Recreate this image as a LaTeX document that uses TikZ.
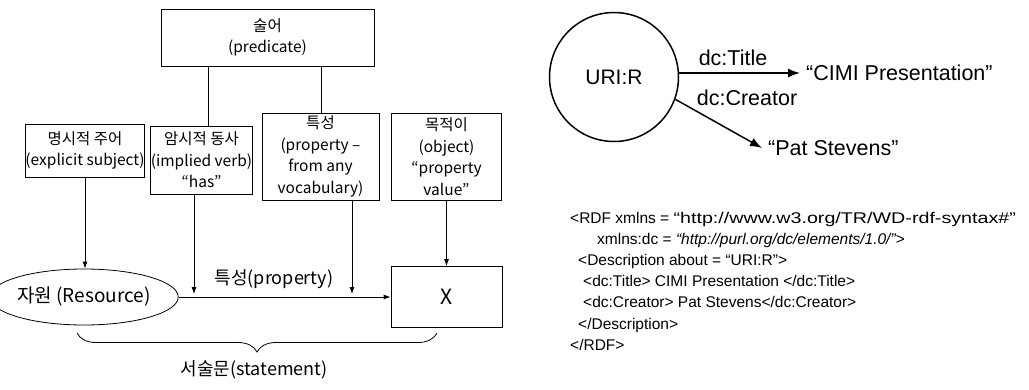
\documentclass[tikz,border=0pt]{standalone}
\usepackage{fontspec}
\setmainfont{Liberation Sans}
\newfontfamily\krfont{Noto Sans CJK KR}
\usepackage{tikz}
\usetikzlibrary{calc}
\usetikzlibrary{positioning}
\usetikzlibrary{shapes.geometric}
\usetikzlibrary{arrows.meta}
\usetikzlibrary{decorations.pathreplacing}

\newcommand{\krsize}[2]{\krfont\fontsize{#1}{#2}\selectfont}
\newcommand{\rdfsize}[1]{\fontsize{#1}{#1}\selectfont}

\begin{document}
\begin{tikzpicture}[x=1pt, y=-1pt]

                \def\d{21.2}

                % Styles shared by the two drawings
                \tikzset{
                    termbox/.style={draw, line width=0.8pt, align=center,
                        inner sep=0pt, font=\krsize{15.5}{21.5}},
                    smallarrow/.style={line width=0.8pt,
                        -{Latex[length=7pt, width=5pt]}},
                    bigarrow/.style={line width=1.5pt,
                        -{Latex[length=12pt, width=9pt]}},
                    rdflabel/.style={font=\rdfsize{21.5}, inner sep=6pt},
                    codeline/.style={anchor=base west, inner sep=0pt,
                        font=\rdfsize{15.5}}
                }

                \useasboundingbox (0, 0) rectangle (1029, 389);

                % Left drawing: subject, predicate and object
                \begin{scope}
                    \node[termbox, minimum width=213, minimum height=57]
                    (pred) at (267.5, 37.5) {술어\\(predicate)};
                    \node[termbox, minimum width=116, minimum height=53]
                    (subj) at (85, 150.5) {명시적 주어\\(explicit subject)};
                    \node[termbox, minimum width=95, minimum height=68]
                    (verb) at (201.5, 160) {암시적 동사\\(implied verb)\\“has”};
                    \node[termbox, minimum width=117, minimum height=87]
                    (prop) at (320.5, 156.5)
                    {특성\\(property –\\from any\\vocabulary)};
                    \node[termbox, minimum width=110, minimum height=87]
                    (obj) at (446.5, 156.5)
                    {목적이\\(object)\\“property\\value”};

                    \node[draw, ellipse, line width=0.8pt, inner sep=0pt,
                        minimum width=152, minimum height=56,
                        font=\krsize{19}{22}]
                    (res) at (84, 297) {자원 (Resource)};
                    \node[draw, line width=0.8pt, minimum width=111,
                        minimum height=61, font=\krsize{21}{24}]
                    (val) at (446.5, 297) {X};

                    \node[font=\krsize{18}{21}] (proplbl) at (274, 279)
                    {특성(property)};
                    \coordinate (braceL) at (77, 333);
                    \coordinate (braceR) at (437, 333);
                    \node[font=\krsize{18}{21}] (stmt) at (254, 370)
                    {서술문(statement)};

                    \coordinate (hasTip) at (194, 294);
                    \coordinate (propTip) at (352, 294);
                \end{scope}

                \begin{scope}[line width=0.8pt]
                    \draw (208,0 |- pred.south) -- (208,0 |- verb.north);
                    \draw (321,0 |- pred.south) -- (321,0 |- prop.north);
                    \draw[smallarrow] (subj.south) -- (subj.south |- res.north);
                    \draw[smallarrow] (194,0 |- verb.south) -- (hasTip);
                    \draw[smallarrow] (352,0 |- prop.south) -- (propTip);
                    \draw[smallarrow] (obj.south) -- (val.north);
                    \draw[smallarrow] (res.east) -- (val.west);
                    \draw[decorate, decoration={brace, mirror, amplitude=19pt}]
                    (braceL) -- (braceR);
                \end{scope}

                % Right drawing: the same statement as a graph and in RDF
                \begin{scope}
                    \node[draw, circle, line width=1.5pt, minimum size=129,
                        inner sep=0pt, font=\rdfsize{21}]
                    (uri) at (614, 77) {URI:R};
                    \node[rdflabel, anchor=west] (ttl) at (800, 73)
                    {“CIMI Presentation”};
                    \node[rdflabel, anchor=west] (pat) at (762, 148)
                    {“Pat Stevens”};
                    \node[rdflabel] (ttlprop) at (733, 58) {dc:Title};
                    \node[rdflabel] (crprop) at (747, 98) {dc:Creator};
                \end{scope}

                \begin{scope}
                    \draw[bigarrow] (uri.east |- ttl.west) -- (ttl.west);
                    \draw[bigarrow] (uri.-20) -- (pat.west);
                \end{scope}

                % RDF text, one node per line
                \node[codeline] (code1) at (570, 223)
                {<RDF xmlns = \scalebox{1.27}[1]{“http://www.w3.org/TR/WD-rdf-syntax\#”}};
                \node[codeline] (code2) at (597, 244.2)
                {xmlns:dc = \textit{“http://purl.org/dc/elements/1.0/”>}};
                \node[codeline] (code3) at (578, 265.4)
                {<Description about = “URI:R”>};
                \node[codeline] (code4) at (583, 286.6)
                {<dc:Title> CIMI Presentation </dc:Title>};
                \node[codeline] (code5) at (583, 307.8)
                {<dc:Creator> Pat Stevens</dc:Creator>};
                \node[codeline] (code6) at (578, 329)
                {</Description>};
                \node[codeline] (code7) at (570, 350.2)
                {</RDF>};

                \end{tikzpicture}
\end{document}
